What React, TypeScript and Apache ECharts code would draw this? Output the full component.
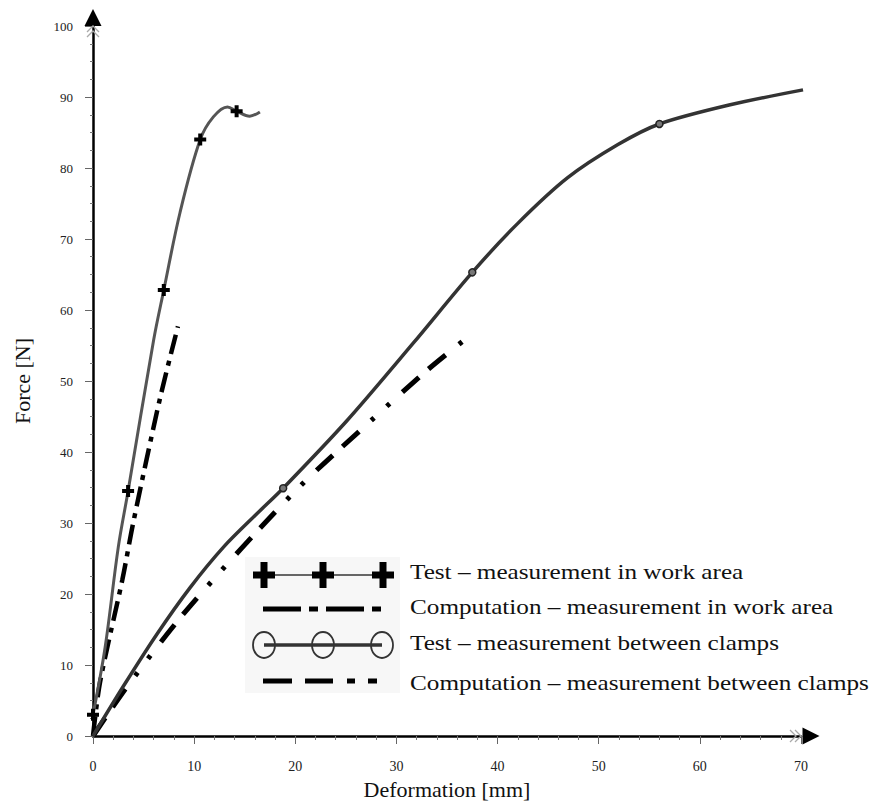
import React, { useEffect, useRef } from "react";
import * as echarts from "echarts";

// ---- data ----
const X_MIN = 0;
const X_MAX = 70;
const X_INTERVAL = 10;
const Y_MIN = 0;
const Y_MAX = 100;
const Y_INTERVAL = 10;

const xAxisTitle = "Deformation [mm]";
const yAxisTitle = "Force [N]";

const seriesNames = [
  "Test – measurement in work area",
  "Computation – measurement in work area",
  "Test – measurement between clamps",
  "Computation – measurement between clamps",
];

// Test – work area
const workTestX = [0, 1.2, 2.5, 3.47, 6.0, 7.0, 8.6, 10.6, 11.9, 13.3, 14.2, 15.5, 16.5];
const workTestY = [3, 12.5, 26.6, 34.5, 55.8, 62.8, 73.7, 84.0, 87.2, 88.6, 88.0, 87.3, 87.9];
const workTestMarks = [0, 3, 5, 7, 10];

// Computation – work area
const workCompX = [0, 0.7, 2.9, 4.0, 6.6, 8.4];
const workCompY = [0, 7.6, 22.0, 30.2, 47.4, 57.7];

// Test – between clamps
const clampTestX = [0, 3, 6.3, 9.6, 12.9, 16.2, 18.8, 25.1, 31.7, 37.5, 42, 46.9, 51.9, 56, 63, 70.2];
const clampTestY = [0, 7.0, 14.3, 20.9, 26.6, 31.3, 34.9, 44.4, 55.4, 65.3, 72.2, 78.6, 83.3, 86.2, 88.9, 91.0];
const clampTestMarks = [6, 9, 13];

// Computation – between clamps
const clampCompX = [0, 3.7, 9.6, 20, 27.4, 33.1, 37.8];
const clampCompY = [0, 7.6, 18.3, 34.5, 44.3, 51.6, 57.0];

const FONT = '"Liberation Serif", "DejaVu Serif", "Times New Roman", serif';
const PLUS = "path://M4,0H8V4H12V8H8V12H4V8H0V4H4Z";

function pairs(xs: number[], ys: number[]) {
  return xs.map((x, i) => [x, ys[i]]);
}

export default function App() {
  const ref = useRef<HTMLDivElement>(null);

  useEffect(() => {
    if (!ref.current) return;
    const chart = echarts.init(ref.current, null, { renderer: "svg" });

    const axisCommon = {
      type: "value" as const,
      nameLocation: "middle" as const,
      nameTextStyle: { fontFamily: FONT, fontSize: 22, color: "#111" },
      splitLine: { show: false },
      axisTick: { show: true, length: 8, lineStyle: { color: "#666", width: 1 } },
    };

    const option: any = {
      animation: false,
      backgroundColor: "#fff",
      grid: { left: 93, right: 79, top: 26, bottom: 68 },
      xAxis: {
        ...axisCommon,
        min: X_MIN,
        max: X_MAX,
        interval: X_INTERVAL,
        name: xAxisTitle,
        nameGap: 42,
        axisLine: {
          lineStyle: { color: "#000", width: 2.5 },
          symbol: ["none", "triangle"],
          symbolSize: [17, 17],
          symbolOffset: [0, 10],
        },
        minorTick: { show: true, splitNumber: 5, length: 4, lineStyle: { color: "#777", width: 1 } },
        axisLabel: { margin: 23, fontFamily: FONT, fontSize: 14, color: "#222" },
      },
      yAxis: {
        ...axisCommon,
        min: Y_MIN,
        max: Y_MAX,
        interval: Y_INTERVAL,
        name: yAxisTitle,
        nameGap: 60,
        axisLine: {
          lineStyle: { color: "#000", width: 2.5 },
          symbol: ["none", "triangle"],
          symbolSize: [17, 17],
          symbolOffset: [0, 8.5],
        },
        minorTick: { show: true, splitNumber: 4, length: 3, lineStyle: { color: "#777", width: 1 } },
        axisLabel: { margin: 20, fontFamily: FONT, fontSize: 13, color: "#222" },
      },
      series: [
        {
          name: seriesNames[0],
          type: "line",
          smooth: 0.35,
          clip: false,
          z: 3,
          symbol: PLUS,
          symbolSize: 12,
          itemStyle: { color: "#000" },
          lineStyle: { color: "#555", width: 3 },
          data: workTestX.map((x, i) => ({
            value: [x, workTestY[i]],
            symbol: workTestMarks.includes(i) ? PLUS : "none",
          })),
        },
        {
          name: seriesNames[1],
          type: "line",
          smooth: 0.3,
          clip: false,
          z: 2,
          symbol: "none",
          lineStyle: { color: "#000", width: 4.5, type: [20, 7, 5, 7], cap: "butt" },
          data: pairs(workCompX, workCompY),
        },
        {
          name: seriesNames[2],
          type: "line",
          smooth: 0.3,
          clip: false,
          z: 3,
          symbol: "circle",
          symbolSize: 7,
          itemStyle: { color: "#777", borderColor: "#222", borderWidth: 1.5 },
          lineStyle: { color: "#333", width: 3.5 },
          data: clampTestX.map((x, i) => ({
            value: [x, clampTestY[i]],
            symbol: clampTestMarks.includes(i) ? "circle" : "none",
          })),
        },
        {
          name: seriesNames[3],
          type: "line",
          smooth: 0.3,
          clip: false,
          z: 2,
          symbol: "none",
          lineStyle: { color: "#000", width: 5, type: [22, 13, 22, 17, 4, 17, 4, 17], cap: "butt" },
          data: pairs(clampCompX, clampCompY),
        },
      ],
    };

    chart.setOption(option);

    // decorations computed through the chart's own scales
    const xEnd = chart.convertToPixel({ gridIndex: 0 }, [X_MAX, Y_MIN]) as number[];
    const yEnd = chart.convertToPixel({ gridIndex: 0 }, [X_MIN, Y_MAX]) as number[];
    const chev = "#aaa";
    const graphics: any[] = [];
    [-11, -6].forEach((dx) => {
      graphics.push({
        type: "polyline",
        z: 10,
        shape: { points: [[xEnd[0] + dx, xEnd[1] - 6], [xEnd[0] + dx + 6, xEnd[1]], [xEnd[0] + dx, xEnd[1] + 6]] },
        style: { stroke: chev, lineWidth: 1.3, fill: "none" },
      });
    });
    [11, 6].forEach((dy) => {
      graphics.push({
        type: "polyline",
        z: 10,
        shape: { points: [[yEnd[0] - 6, yEnd[1] + dy], [yEnd[0], yEnd[1] + dy - 6], [yEnd[0] + 6, yEnd[1] + dy]] },
        style: { stroke: chev, lineWidth: 1.3, fill: "none" },
      });
    });

    // legend box
    const lx = 245;
    const ly = 557;
    graphics.push({
      type: "rect",
      z: 20,
      shape: { x: lx, y: ly, width: 155, height: 136 },
      style: { fill: "#f7f7f7", stroke: "none" },
    });
    const rowY = [575, 609, 645, 681];
    const textY = [572, 607, 643, 683];
    graphics.push({
      type: "line",
      z: 21,
      shape: { x1: 264, y1: rowY[0], x2: 383, y2: rowY[0] },
      style: { stroke: "#666", lineWidth: 2 },
    });
    [264, 323, 383].forEach((cx) => {
      graphics.push({ type: "rect", z: 22, shape: { x: cx - 11, y: rowY[0] - 3.5, width: 22, height: 7 }, style: { fill: "#000" } });
      graphics.push({ type: "rect", z: 22, shape: { x: cx - 3.5, y: rowY[0] - 13, width: 7, height: 26 }, style: { fill: "#000" } });
    });
    graphics.push({
      type: "line",
      z: 21,
      shape: { x1: 263, y1: rowY[1], x2: 381, y2: rowY[1] },
      style: { stroke: "#000", lineWidth: 5, lineDash: [38, 8, 9, 8] },
    });
    graphics.push({
      type: "line",
      z: 21,
      shape: { x1: 264, y1: rowY[2], x2: 382, y2: rowY[2] },
      style: { stroke: "#333", lineWidth: 3.5 },
    });
    [264, 323, 382].forEach((cx) => {
      graphics.push({
        type: "ellipse",
        z: 22,
        shape: { cx, cy: rowY[2], rx: 11, ry: 13 },
        style: { stroke: "#333", lineWidth: 1.8, fill: "none" },
      });
    });
    graphics.push({
      type: "line",
      z: 21,
      shape: { x1: 263, y1: rowY[3], x2: 377, y2: rowY[3] },
      style: { stroke: "#000", lineWidth: 5, lineDash: [29, 13, 28, 14, 8, 13, 9, 100] },
    });
    seriesNames.forEach((name, i) => {
      graphics.push({
        type: "text",
        z: 22,
        x: 410,
        y: textY[i],
        scaleX: 1.2,
        style: {
          text: name,
          fontFamily: FONT,
          fontSize: 21,
          fill: "#111",
          textVerticalAlign: "middle",
          verticalAlign: "middle",
        },
      });
    });

    chart.setOption({ graphic: graphics });

    return () => chart.dispose();
  }, []);

  return (
    <div
      ref={ref}
      style={{ position: "fixed", left: 0, top: 0, width: 880, height: 805, background: "#fff" }}
    />
  );
}
